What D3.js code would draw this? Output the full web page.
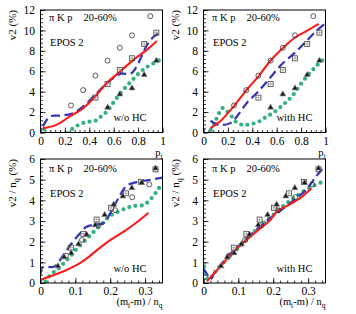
<!DOCTYPE html>
<html>
<head>
<meta charset="utf-8">
<script src="https://cdn.jsdelivr.net/npm/d3@7"></script>
<style>
body { margin: 0; background: #fff; }
text { font-family: "Liberation Serif", "Times New Roman", serif; fill: #000; }
</style>
</head>
<body>
<div id="chart"></div>
<script>
// ---- measured points, upper panels (pt, v2 in %) ----
const pionPt = [0.25, 0.35, 0.45, 0.55, 0.65, 0.75, 0.9];
const pionV2 = [2.65, 4.15, 5.57, 7.04, 8.3, 9.52, 11.4];
const kaonPt = [0.45, 0.55, 0.65, 0.75, 0.85, 0.95];
const kaonV2 = [3.42, 4.76, 6.13, 7.27, 8.67, 9.78];
const protonPt = [0.55, 0.65, 0.75, 0.85, 0.95];
const protonV2 = [2.45, 3.75, 4.34, 5.64, 7.04];

// ---- measured points, lower panels ((mt-m)/nq, v2/nq in %) ----
const pionKet = [0.073, 0.119, 0.166, 0.214, 0.263, 0.312];
const pionV2nq = [1.32, 2.08, 2.79, 3.52, 4.15, 4.77];
const kaonKet = [0.087, 0.123, 0.161, 0.202, 0.245, 0.288, 0.33];
const kaonV2nq = [1.71, 2.38, 3.07, 3.64, 4.34, 4.89, 5.5];
const protonKet = [0.05, 0.068, 0.088, 0.109, 0.132, 0.157, 0.184, 0.21, 0.236, 0.262, 0.29, 0.33];
const protonV2nq = [0.82, 1.25, 1.45, 1.88, 2.35, 2.8, 3.3, 3.8, 4.2, 4.6, 4.85, 5.55];

// ---- EPOS 2 curves: red = pion, blue dashed = kaon, green dotted = proton ----
const redPtNoHC = [[0.02,0.42],[0.13,0.75],[0.24,1.57],[0.35,2.38],[0.447,3.52],[0.542,4.83],[0.652,5.97],[0.762,7.11],[0.871,8.09],[0.953,8.97]];
const bluePtNoHC = [[0.02,0.59],[0.077,1.57],[0.173,1.66],[0.268,1.89],[0.364,2.71],[0.447,3.68],[0.542,4.83],[0.6,5.35],[0.66,5.75],[0.74,5.75],[0.78,6.3],[0.83,7.5],[0.87,8.5],[0.93,9.4],[1.0,9.9]];
const greenPtNoHC = [[0.03,0.3],[0.1,-1.2],[0.18,-0.8],[0.227,0],[0.27,0.45],[0.32,0.78],[0.37,1.0],[0.41,1.07],[0.455,1.17],[0.49,1.5],[0.53,1.9],[0.57,2.45],[0.61,3.15],[0.68,4.2],[0.75,5.1],[0.82,5.95],[0.87,6.4],[0.93,6.8],[1.0,7.25]];

const redPtHC = [[0.057,0.43],[0.138,1.1],[0.247,2.56],[0.355,4.2],[0.45,5.5],[0.545,6.98],[0.653,8.3],[0.748,9.28],[0.843,9.93],[0.945,10.65]];
const bluePtHC = [[0.057,1.15],[0.125,0.75],[0.22,0.92],[0.274,1.57],[0.355,2.89],[0.45,4.03],[0.545,5.34],[0.64,6.66],[0.748,7.8],[0.843,8.95],[0.924,9.93],[1.0,10.69]];
const greenPtHC = [[0.06,0.25],[0.09,0.9],[0.12,1.7],[0.155,2.4],[0.19,2.1],[0.23,1.6],[0.27,1.0],[0.32,0.75],[0.38,0.8],[0.45,1.05],[0.51,1.5],[0.58,2.0],[0.66,2.8],[0.73,3.6],[0.8,4.8],[0.87,5.8],[0.94,6.7],[1.0,7.35]];

const redKetNoHC = [[0,0.15],[0.03,0.34],[0.068,0.58],[0.107,0.9],[0.136,1.23],[0.165,1.63],[0.203,2.11],[0.242,2.52],[0.281,3.0],[0.31,3.4]];
const blueKetNoHC = [[0,0.4],[0.006,0.75],[0.04,0.8],[0.065,1.34],[0.089,1.91],[0.113,2.39],[0.132,2.72],[0.161,2.83],[0.18,2.88],[0.2,3.37],[0.223,4.09],[0.247,4.7],[0.276,4.88],[0.31,4.98],[0.35,5.1]];
const greenKetNoHC = [[0,0.15],[0.01,0.02],[0.03,0.42],[0.049,0.66],[0.068,0.98],[0.088,1.34],[0.107,1.71],[0.131,2.11],[0.155,2.52],[0.179,2.92],[0.199,3.24],[0.223,3.45],[0.25,3.65],[0.27,3.73],[0.295,3.77],[0.31,3.95],[0.33,4.35],[0.35,4.85]];

const redKetHC = [[0.01,0.08],[0.043,0.7],[0.086,1.5],[0.119,2.02],[0.157,2.56],[0.191,3.04],[0.21,3.45],[0.243,3.77],[0.276,4.09],[0.31,4.58]];
const blueKetHC = [[0,0.7],[0.01,0.42],[0.02,0.18],[0.03,0.45],[0.048,0.82],[0.067,1.23],[0.105,1.87],[0.143,2.44],[0.181,3.0],[0.219,3.48],[0.257,3.97],[0.295,4.53],[0.324,5.18],[0.35,5.7]];
const greenKetHC = [[0.002,0.8],[0.004,0.55],[0.008,0.3],[0.015,0.15],[0.03,0.45],[0.039,0.66],[0.067,1.15],[0.096,1.63],[0.124,2.11],[0.157,2.68],[0.191,3.16],[0.229,3.73],[0.267,4.21],[0.304,4.61],[0.35,4.95]];

// ---- axis ticks ----
const ptTicks = [0, 0.2, 0.4, 0.6, 0.8, 1];
const v2Ticks = [0, 2, 4, 6, 8, 10, 12];
const ketTicks = [0, 0.1, 0.2, 0.3];
const v2nqTicks = [0, 1, 2, 3, 4, 5, 6];

const svg = d3.select("#chart").append("svg")
    .attr("width", 356)
    .attr("height", 314);

const zip = (a, b) => a.map((v, i) => [v, b[i]]);

function drawPanel(p) {
    const x = d3.scaleLinear().domain(p.xDomain).range([p.left, p.right]);
    const y = d3.scaleLinear().domain(p.yDomain).range([p.bottom, p.top]);
    const g = svg.append("g");

    svg.append("clipPath").attr("id", "clip" + p.id)
       .append("rect")
       .attr("x", p.left).attr("y", p.top)
       .attr("width", p.right - p.left).attr("height", p.bottom - p.top);

    // minor + major ticks, pointing inward like ROOT
    const xMinor = d3.range(p.xDomain[0], p.xDomain[1] + 1e-9, p.xMinorStep);
    const yMinor = d3.range(p.yDomain[0], p.yDomain[1] + 1e-9, p.yMinorStep);
    g.append("g").attr("transform", `translate(0,${p.bottom})`)
     .call(d3.axisBottom(x).tickValues(xMinor).tickSizeInner(-2.5).tickSizeOuter(0).tickFormat(""));
    g.append("g").attr("transform", `translate(${p.left},0)`)
     .call(d3.axisLeft(y).tickValues(yMinor).tickSizeInner(-2.5).tickSizeOuter(0).tickFormat(""));
    g.append("g").attr("transform", `translate(0,${p.bottom})`)
     .call(d3.axisBottom(x).tickValues(p.xTicks).tickSizeInner(-5).tickSizeOuter(0).tickPadding(4).tickFormat(d3.format("~g")));
    g.append("g").attr("transform", `translate(${p.left},0)`)
     .call(d3.axisLeft(y).tickValues(p.yTicks).tickSizeInner(-5).tickSizeOuter(0).tickPadding(5.5).tickFormat(d3.format("~g")));
    g.selectAll(".domain").remove();
    g.selectAll(".tick line").attr("stroke", "#000").attr("stroke-width", 0.8);
    g.selectAll(".tick text").attr("font-family", null).style("font-size", "11.5px").attr("fill", "#000");
    g.selectAll("g").attr("font-family", null);

    // model curves
    const line = d3.line().x(d => x(d[0])).y(d => y(d[1])).curve(d3.curveCatmullRom.alpha(0.5));
    const cg = g.append("g").attr("clip-path", `url(#clip${p.id})`);
    cg.append("path").datum(p.green)
      .attr("d", line).attr("fill", "none")
      .attr("stroke", "#33b07f").attr("stroke-width", 4.2)
      .attr("stroke-linecap", "round").attr("stroke-dasharray", "0 6.3");
    cg.append("path").datum(p.blue)
      .attr("d", line).attr("fill", "none")
      .attr("stroke", "#3434b8").attr("stroke-width", 2.2)
      .attr("stroke-dasharray", "9 4.5");
    cg.append("path").datum(p.red)
      .attr("d", line).attr("fill", "none")
      .attr("stroke", "#ff1a1a").attr("stroke-width", 2.1);

    // data markers
    cg.selectAll(".pi").data(p.pions).join("circle")
      .attr("cx", d => x(d[0])).attr("cy", d => y(d[1])).attr("r", 2.5)
      .attr("fill", "none").attr("stroke", "#333").attr("stroke-width", 0.8);
    const sq = cg.selectAll(".ka").data(p.kaons).join("g")
      .attr("transform", d => `translate(${x(d[0])},${y(d[1])})`);
    sq.append("rect").attr("x", -2.5).attr("y", -2.5).attr("width", 5).attr("height", 5)
      .attr("fill", "none").attr("stroke", "#444").attr("stroke-width", 0.8);
    sq.append("path").attr("d", "M0,-2.5V2.5M-2.5,0H2.5").attr("stroke", "#888").attr("stroke-width", 0.6);
    cg.selectAll(".pr").data(p.protons).join("path")
      .attr("transform", d => `translate(${x(d[0])},${y(d[1])})`)
      .attr("d", d3.symbol(d3.symbolTriangle).size(15))
      .attr("fill", "#1a1a1a").attr("stroke", "#888").attr("stroke-width", 0.7);

    // frame
    g.append("rect")
     .attr("x", p.left).attr("y", p.top)
     .attr("width", p.right - p.left).attr("height", p.bottom - p.top)
     .attr("fill", "none").attr("stroke", "#000").attr("stroke-width", 1);

    // labels in the pad
    const t = g.append("g").style("font-size", "10.5px");
    t.append("text").attr("x", p.left + 8.5).attr("y", p.top + p.labelDy).text("\u03c0 K p");
    t.append("text").attr("x", p.left + 43).attr("y", p.top + p.labelDy).text("20-60%");
    t.append("text").attr("x", p.left + 9.5).attr("y", p.top + p.labelDy + 25).text("EPOS 2");
    t.append("text").attr("x", p.left + 73).attr("y", p.bottom - 11.5).text(p.tag);

    // y axis title
    const yt = g.append("text")
      .attr("transform", `translate(${p.left - 24.5},${p.top}) rotate(-90)`)
      .attr("text-anchor", "end").style("font-size", "11px");
    if (p.scaled) {
        yt.append("tspan").text("v2 / n");
        yt.append("tspan").attr("dy", 2.5).style("font-size", "8px").text("q");
        yt.append("tspan").attr("dy", -2.5).text(" (%)");
    } else {
        yt.text("v2 (%)");
    }

    // x axis title
    const xt = svg.append("text").attr("text-anchor", "end").style("font-size", "10.5px");
    if (p.scaled) {
        xt.attr("x", p.right).attr("y", 305);
        xt.append("tspan").text("(m");
        xt.append("tspan").attr("dy", 2.5).style("font-size", "7.5px").text("t");
        xt.append("tspan").attr("dy", -2.5).text("-m) / n");
        xt.append("tspan").attr("dy", 2.5).style("font-size", "7.5px").text("q");
    } else {
        xt.attr("x", p.right).attr("y", 156);
        xt.append("tspan").text("p");
        xt.append("tspan").attr("dy", 2.5).style("font-size", "7.5px").text("t");
    }
}

const panels = [
    {id: 0, left: 40.5, right: 162.5, top: 10, bottom: 132.5, xDomain: [0, 1], yDomain: [0, 12],
     xTicks: ptTicks, yTicks: v2Ticks, xMinorStep: 0.04, yMinorStep: 0.4, labelDy: 11,
     red: redPtNoHC, blue: bluePtNoHC, green: greenPtNoHC, tag: "w/o HC", scaled: false},
    {id: 1, left: 203.5, right: 325.5, top: 10, bottom: 132.5, xDomain: [0, 1], yDomain: [0, 12],
     xTicks: ptTicks, yTicks: v2Ticks, xMinorStep: 0.04, yMinorStep: 0.4, labelDy: 11,
     red: redPtHC, blue: bluePtHC, green: greenPtHC, tag: "with HC", scaled: false},
    {id: 2, left: 40.5, right: 162.5, top: 159, bottom: 283, xDomain: [0, 0.35], yDomain: [0, 6],
     xTicks: ketTicks, yTicks: v2nqTicks, xMinorStep: 0.02, yMinorStep: 0.2, labelDy: 13,
     red: redKetNoHC, blue: blueKetNoHC, green: greenKetNoHC, tag: "w/o HC", scaled: true},
    {id: 3, left: 203.5, right: 325.5, top: 159, bottom: 283, xDomain: [0, 0.35], yDomain: [0, 6],
     xTicks: ketTicks, yTicks: v2nqTicks, xMinorStep: 0.02, yMinorStep: 0.2, labelDy: 13,
     red: redKetHC, blue: blueKetHC, green: greenKetHC, tag: "with HC", scaled: true}
];
panels.forEach(p => {
    if (p.scaled) {
        p.pions = zip(pionKet, pionV2nq);
        p.kaons = zip(kaonKet, kaonV2nq);
        p.protons = zip(protonKet, protonV2nq);
    } else {
        p.pions = zip(pionPt, pionV2);
        p.kaons = zip(kaonPt, kaonV2);
        p.protons = zip(protonPt, protonV2);
    }
});
panels.forEach(drawPanel);
</script>
</body>
</html>
